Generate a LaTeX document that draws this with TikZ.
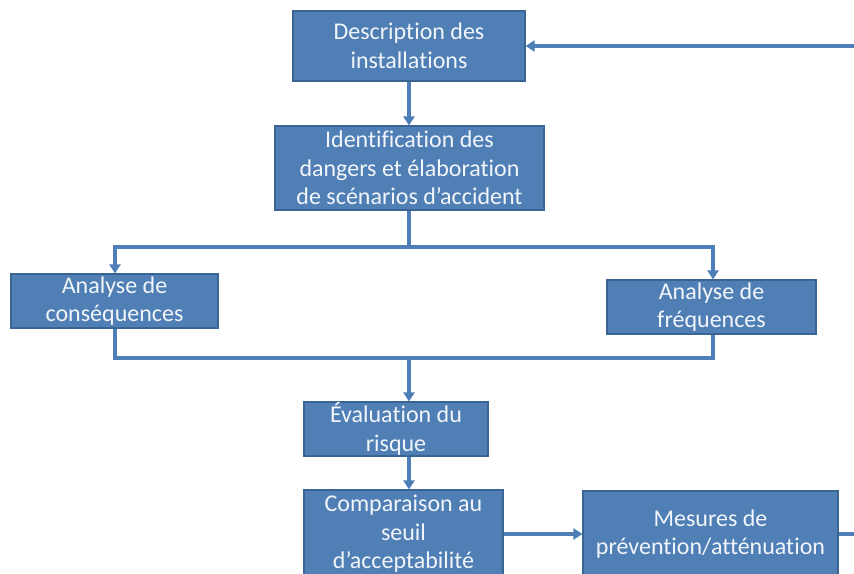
\documentclass[tikz,border=0pt]{standalone}
\usepackage{fontspec}
\setmainfont[Ligatures=NoCommon]{Carlito}
\usetikzlibrary{arrows.meta}
\definecolor{boxfill}{HTML}{4F7FB5}
\definecolor{boxline}{HTML}{3A6593}
\definecolor{conn}{HTML}{4D7EB8}
\definecolor{txt}{HTML}{F2F5FA}
\tikzset{
  stepbox/.style={draw=boxline, line width=1.2pt, fill=boxfill, text=txt,
    align=center, inner sep=0pt, font=\fontsize{24}{28.5}\selectfont},
  link/.style={draw=conn, line width=3.5pt, -{Triangle[length=9pt,width=11pt]}},
  plain/.style={draw=conn, line width=3.5pt}
}
\begin{document}
\begin{tikzpicture}[x=1pt,y=-1pt]
\useasboundingbox (0,0) rectangle (854,573);
\clip (0,0) rectangle (854,573);
\fill[white] (0,0) rectangle (854,573);
\node[stepbox, minimum width=232pt, minimum height=70pt] (desc) at (409,46) {Description des\\installations};
\node[stepbox, minimum width=269pt, minimum height=84pt] (ident) at (409.5,168) {Identification des\\dangers et élaboration\\de scénarios d’accident};
\node[stepbox, minimum width=207pt, minimum height=54pt] (cons) at (114.5,301) {Analyse de\\conséquences};
\node[stepbox, minimum width=209pt, minimum height=54pt] (freq) at (711.5,307) {Analyse de\\fréquences};
\node[stepbox, minimum width=184pt, minimum height=54pt] (eval) at (396,429) {Évaluation du\\risque};
\node[stepbox, minimum width=199pt, minimum height=88pt] (comp) at (403.5,534) {Comparaison au\\seuil\\d’acceptabilité};
\node[stepbox, minimum width=255pt, minimum height=86pt] (mes) at (710.5,534) {Mesures de\\prévention/atténuation};
\coordinate (split) at (409,247);
\coordinate (join) at (409,358);
\coordinate (far1) at (870,534);
\coordinate (far2) at (870,46);
% connectors
\draw[link] (desc.south -| 409,0) -- (ident.north -| 409,0);
\draw[plain] (ident.south -| split) -- (split);
\draw[link] (split) -| (cons.north -| 115,0);
\draw[link] (split) -| (freq.north -| 713,0);
\draw[plain] (cons.south -| 115,0) |- (join);
\draw[plain] (freq.south -| 713,0) |- (join);
\draw[link] (join) -- (eval.north -| join);
\draw[link] (eval.south -| join) -- (comp.north -| join);
\draw[link] (comp.east) -- (mes.west);
\draw[link] (mes.east) -- (far1) -- (far2) -- (desc.east);
\end{tikzpicture}
\end{document}
